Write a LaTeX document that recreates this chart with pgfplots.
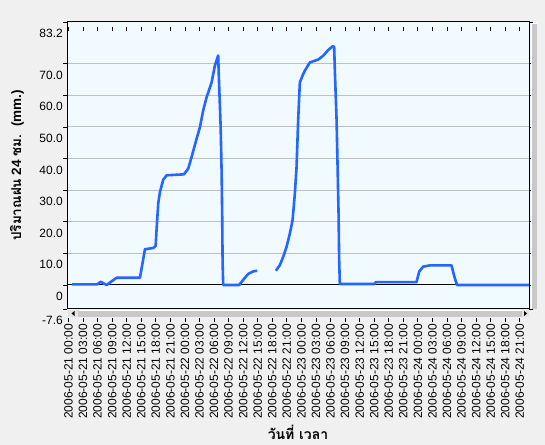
\documentclass[border=0pt]{standalone}
\usepackage{fontspec}
\setmainfont{Liberation Sans}
\newfontfamily\thaifont[Script=Thai]{Loma}
\usepackage{pgfplots}
\pgfplotsset{compat=1.18}

\definecolor{pagebg}{RGB}{240,240,240}
\definecolor{plotbg}{RGB}{240,250,255}
\definecolor{gridgray}{RGB}{192,192,192}
\definecolor{rainblue}{RGB}{36,102,255}
\definecolor{barface}{RGB}{200,200,200}
\definecolor{barlight}{RGB}{228,228,228}

\begin{document}
\begin{tikzpicture}[x=1bp,y=1bp]
\fill[pagebg] (0,0) rectangle (545,445);
\begin{axis}[
    at={(67bp,136bp)}, anchor=south west,
    width=462bp, height=287bp, scale only axis,
    xmin=-0.3, xmax=94.9,
    ymin=-7.6, ymax=83.2,
    axis background/.style={fill=plotbg},
    axis line style={black, line width=1bp},
    tick align=outside,
    major tick length=4bp,
    xtick={0,3,...,93},
    xticklabels={
        2006-05-21 00:00, 2006-05-21 03:00, 2006-05-21 06:00, 2006-05-21 09:00,
        2006-05-21 12:00, 2006-05-21 15:00, 2006-05-21 18:00, 2006-05-21 21:00,
        2006-05-22 00:00, 2006-05-22 03:00, 2006-05-22 06:00, 2006-05-22 09:00,
        2006-05-22 12:00, 2006-05-22 15:00, 2006-05-22 18:00, 2006-05-22 21:00,
        2006-05-23 00:00, 2006-05-23 03:00, 2006-05-23 06:00, 2006-05-23 09:00,
        2006-05-23 12:00, 2006-05-23 15:00, 2006-05-23 18:00, 2006-05-23 21:00,
        2006-05-24 00:00, 2006-05-24 03:00, 2006-05-24 06:00, 2006-05-24 09:00,
        2006-05-24 12:00, 2006-05-24 15:00, 2006-05-24 18:00, 2006-05-24 21:00},
    xtick style={black, line width=0.8bp, yshift=-9bp},
    xticklabel style={rotate=90, anchor=east, inner sep=0pt,
        font=\fontsize{12bp}{14bp}\selectfont},
    xticklabel shift=11bp,
    ytick={10,20,30,40,50,60,70},
    yticklabels={10.0,20.0,30.0,40.0,50.0,60.0,70.0},
    extra y ticks={-7.6,0,83.2},
    extra y tick labels={-7.6,0,83.2},
    extra y tick style={major grid style={black, line width=1bp}},
    ytick style={black, line width=0.8bp},
    yticklabel style={inner sep=0pt, yshift=-11.5bp,
        font=\fontsize{12bp}{14bp}\selectfont},
    ymajorgrids,
    major grid style={gridgray, line width=1bp},
    xlabel={\fontsize{14bp}{16bp}\selectfont\thaifont\bfseries วันที่ เวลา},
    ylabel={\fontsize{13.5bp}{16bp}\selectfont{\thaifont\bfseries ปริมาณฝน} \textbf{24} {\thaifont\bfseries ชม.}~~\textbf{(mm.)}},
    every axis x label/.style={at={(rel axis cs:0.5,0)}, anchor=base, yshift=-130bp, inner sep=0pt},
    every axis y label/.style={at={(rel axis cs:0,0.5)}, xshift=-50bp, rotate=90, anchor=center, inner sep=0pt},
]
\addplot[rainblue, line width=2.6bp, line join=round, unbounded coords=jump] table {
h v
0.72 0.2
5.93 0.2
6.63 1.0
7.87 0.0
9.93 2.3
14.73 2.3
15.08 5.3
15.76 11.3
17.47 11.7
17.96 12.3
18.17 17.9
18.50 25.8
18.85 29.4
19.53 33.3
20.23 34.7
23.79 35.0
24.68 36.8
25.38 40.5
26.41 46.3
27.09 49.9
27.76 55.2
28.47 59.4
29.50 64.1
30.17 69.4
30.85 72.6
31.00 65.2
31.35 50.5
31.56 35.8
31.68 21.6
31.76 7.4
31.88 0.0
35.18 0.0
36.00 1.6
37.03 3.5
38.06 4.3
38.89 4.5
40.80 nan
42.74 4.5
43.56 6.3
44.25 8.9
44.94 12.1
45.62 16.3
46.18 20.5
46.65 28.9
47.00 37.3
47.33 52.1
47.68 64.1
48.36 66.7
48.71 67.8
49.74 70.4
51.45 71.3
52.48 72.5
53.51 74.3
54.42 75.5
54.75 75.4
54.89 67.8
55.24 52.6
55.45 37.8
55.65 23.1
55.78 7.9
55.92 0.3
63.13 0.3
63.30 0.9
71.72 0.9
72.26 4.2
73.08 5.8
74.46 6.2
78.93 6.2
79.61 2.1
80.08 0.0
94.90 0.0
};
\end{axis}
% horizontal scroll bar
\fill[barface] (67.5,128) rectangle (529,135);
\draw[white] (79,134.5) -- (521.5,134.5);
\fill[barlight] (67.5,128) rectangle (78,135);
\fill[barlight] (522,128) rectangle (529,135);
\fill[black] (71.5,131.5) -- (74.5,134) -- (74.5,129) -- cycle;
\fill[black] (527,131.5) -- (524,134) -- (524,129) -- cycle;
% vertical scroll bar
\fill[barface] (531,136) rectangle (537,422);
\draw[white] (531.5,136) -- (531.5,421.5) -- (537,421.5);
\pgfresetboundingbox
\path[use as bounding box] (0,0) rectangle (545,445);
\end{tikzpicture}
\end{document}
